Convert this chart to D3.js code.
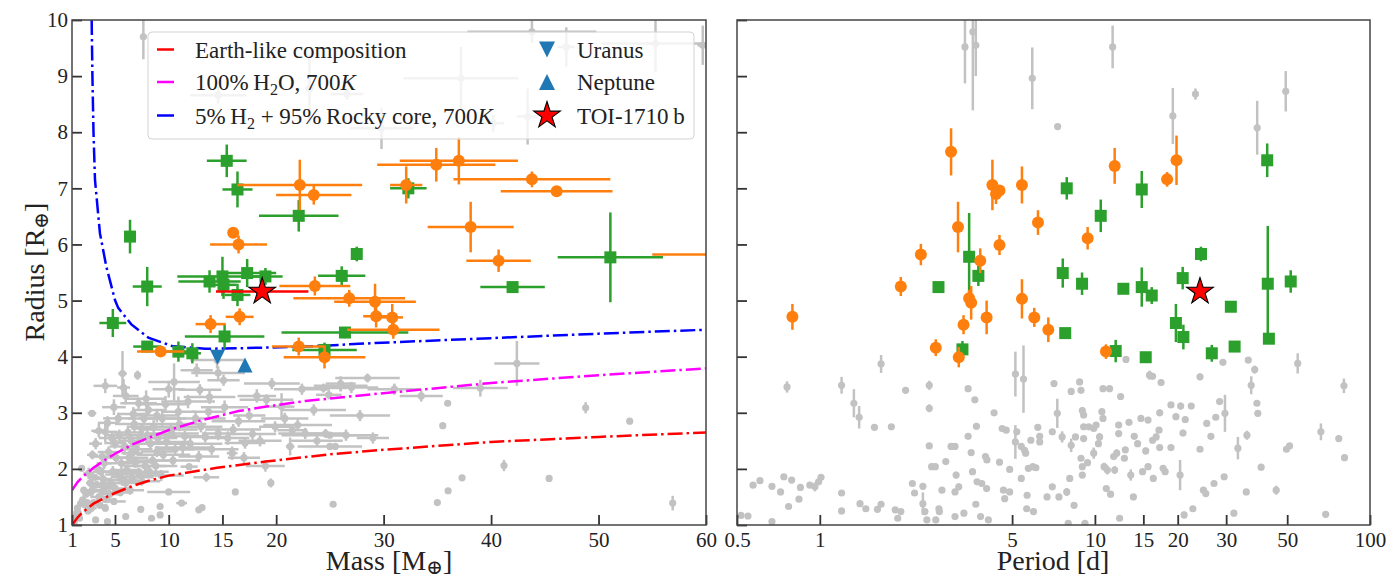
<!DOCTYPE html>
<html>
<head>
<meta charset="utf-8">
<script src="https://cdn.jsdelivr.net/npm/d3@7"></script>
<style>
  body { margin: 0; background: #fff; }
  svg, svg text { font-family: "Liberation Serif", "Times New Roman", "DejaVu Serif", serif; }
</style>
</head>
<body>
<svg id="chart" width="1397" height="580"></svg>
<script>
// ---------- data ----------
const massTicks = [1, 5, 10, 15, 20, 30, 40, 50, 60];
const periodTicks = [0.5, 1, 5, 10, 15, 20, 30, 50, 100];
const radiusTicks = [1, 2, 3, 4, 5, 6, 7, 8, 9, 10];

// model curves [mass, radius]
const earthLike = [[1,1.0],[1.5,1.13],[2,1.23],[3,1.38],[4,1.48],[5,1.57],[6.7,1.7],[8,1.78],[10,1.88],
  [14.5,2.02],[19,2.13],[25,2.26],[30,2.34],[40,2.48],[50,2.57],[60,2.65]];
const water700 = [[1,1.62],[1.5,1.76],[2,1.86],[3,2.02],[4,2.15],[5,2.27],[6.7,2.44],[8.75,2.6],[10,2.69],
  [12.9,2.86],[16.5,3.03],[19.1,3.11],[22.7,3.21],[28.9,3.33],[40,3.53],[50,3.67],[60,3.79]];
const h2Rocky = [[2.83,10.0],[2.9,9.0],[3.0,8.0],[3.14,7.15],[3.6,6.2],[4.2,5.6],[5.0,5.01],[5.3,4.87],
  [6.5,4.58],[8.1,4.34],[10.3,4.19],[13.4,4.14],[16.5,4.15],[22.7,4.18],[28.9,4.24],[40,4.33],[50,4.41],[60,4.48]];

// left panel points [mass, massErr, radius, radiusErr]
const grayMR = [
  [7.64,0.3,9.70,0.4],[14.6,2.6,8.66,0.15],[23.1,0.4,8.78,0.62],[26.6,1.5,8.68,0.1],[43.8,6.0,9.79,0.2],
  [47.0,0.8,9.52,0.35],[55.3,5.0,9.58,0.5],[59.7,0.5,9.55,0.35],[37.2,5.35,8.96,0.56],[29.8,3.0,8.07,0.37],
  [40.2,1.0,8.16,0.15],[43.4,1.0,8.28,0.5],
  [42.4,2.1,3.88,0.4],[39.0,2.55,3.44,0.15],[26,2.5,3.48,0.1],[25,4.5,2.6,0.05],[25,3,2.4,0.05],
  [35.96,0,3.17,0],[35.5,0,2.77,0],[48.8,0,3.09,0.1],[52.9,0,2.85,0],[45.4,0,1.83,0],[41.2,0,2.06,0.1],
  [37.3,0,1.84,0.05],[36.0,0,1.61,0],[35.0,0,1.40,0],[56.9,0,1.39,0.13],
  [2.86,0.4,2.99,0.05],[4.1,1.1,3.48,0.13],[5.7,0.4,3.70,0.4],[5.8,0.6,3.45,0.15],[7.1,0.3,3.67,0.08],
  [10.5,2.4,3.55,0.33],[10.0,1.5,3.42,0.15],[14.6,2.5,3.71,0.12],[12.9,2.0,3.41,0.1],[15.1,1.5,3.58,0.1],
  [19.6,2.6,3.52,0.1],[22.4,2.6,3.42,0.1],[24.4,2.2,3.44,0.08],[26.0,1.4,3.52,0.13],[19.1,2.5,3.23,0.1],
  [20.5,1.2,3.11,0.24],[24.9,1.2,3.32,0.08],[10.9,1.6,3.02,0.27],[13.7,1.5,3.02,0.1],[8.1,1.5,3.05,0.1],
  [7.2,1.7,3.17,0.1],[5.3,1.4,2.9,0.1],[4.1,1.1,2.66,0.18],[7.5,1.0,2.72,0.1],[10.3,2.5,2.63,0.1],
  [13.4,2.2,2.57,0.1],[14.6,1.5,2.63,0.12],[19.9,1.5,2.75,0.1],[21.5,1.4,2.69,0.1],[22.7,2.5,2.63,0.1],
  [24.6,1.9,2.63,0.08],[21.3,0.4,2.40,0.16],[17.1,1.9,2.46,0.1],[15.9,0.5,2.28,0.12],[12.8,1.9,2.22,0.1],
  [25.5,0,2.40,0],[11.9,0.8,2.04,0.05],[8.9,1.5,2.31,0.1],[6.6,1.0,2.28,0.1],[5.0,1.0,2.46,0.1],
  [3.8,1.0,2.22,0.1],[2.55,0.5,1.92,0.1],[1.9,0.3,2.01,0.05],[2.9,0.8,1.62,0.1],[4.1,1.2,1.68,0.1],
  [5.65,1.5,1.80,0.1],[7.2,1.8,1.92,0.1],[10.0,2.0,1.59,0],[16.2,0,1.59,0],[19.5,0,1.75,0.08],
  [25.3,0,1.37,0],[12.8,0,1.27,0],[13.1,0,1.31,0],[9.2,0,1.33,0.05],[9.2,0,1.18,0],[8.4,0,1.12,0],
  [7.4,0,1.28,0],[6.0,0,1.15,0],[4.3,0,1.06,0],[3.2,0,1.09,0],[1.6,0,1.21,0],[2.2,0,1.36,0],
  [4.1,0,1.30,0],[11.2,0.5,1.39,0],
  [2.3,0.3,1.55,0.05],[2.7,0.4,1.75,0.08],[3.1,0.5,1.85,0.06],[3.4,0.6,2.0,0.1],[3.7,0.8,1.95,0.08],
  [4.0,0.7,2.1,0.1],[4.4,1.0,2.3,0.1],[4.7,1.2,2.55,0.12],[5.1,1.0,2.2,0.1],[5.4,1.3,2.6,0.1],
  [5.9,1.4,2.4,0.15],[6.2,1.5,2.65,0.1],[6.5,1.2,2.5,0.1],[6.8,1.8,2.8,0.15],[7.0,1.5,2.35,0.1],
  [7.3,2.0,2.55,0.12],[7.7,1.5,2.9,0.1],[8.0,2.0,2.6,0.1],[8.3,1.6,2.45,0.1],[8.6,2.5,2.75,0.12],
  [9.0,1.8,2.55,0.1],[9.4,2.2,2.9,0.15],[9.8,2.0,2.48,0.1],[10.2,2.5,2.7,0.1],[10.6,1.8,2.35,0.1],
  [11.0,2.5,2.8,0.12],[11.5,2.0,2.58,0.1],[12.0,3.0,2.45,0.1],[3.0,0.5,1.4,0.05],[3.5,0.8,1.5,0.06],
  [4.5,1.0,1.55,0.08],[5.0,1.3,1.65,0.08],[6.0,1.5,1.75,0.1],[6.6,2.0,1.85,0.1],[7.8,2.0,2.05,0.1],
  [8.5,2.0,2.15,0.1],[9.5,2.5,2.25,0.12],[2.0,0.3,1.45,0.05],[1.5,0.2,1.3,0.05],[1.3,0.15,1.15,0.03],
  [2.5,0.4,1.25,0.05],[3.8,0.8,1.6,0.1],[4.8,1.2,1.95,0.1],[5.6,1.6,2.1,0.1],[6.3,1.8,2.2,0.12],
  [13.0,2.0,2.75,0.1],[14.0,2.5,2.35,0.1],[15.5,2.0,2.55,0.12],[16.5,2.5,2.85,0.1],[17.5,1.5,2.95,0.1],
  [18.5,2.0,2.5,0.1],[23.5,3.0,3.05,0.1],[26.5,2.0,2.6,0.1],[27.0,2.5,3.45,0.1],[29.0,1.5,2.55,0.1],
  [28.5,3.0,3.62,0.08],[14.5,2.5,3.94,0.15],[12.6,1.5,3.76,0.12],[1.44,0,1.21,0],
  // denser core of the small-planet cluster
  [1.2,0.1,1.05,0.03],[1.7,0.2,1.12,0.04],[1.8,0.3,1.38,0.05],[2.1,0.3,1.62,0.06],[2.4,0.4,1.4,0.05],
  [2.6,0.5,1.58,0.06],[2.8,0.5,1.3,0.05],[3.3,0.6,1.72,0.07],[3.6,0.7,1.35,0.05],[3.9,0.8,1.82,0.08],
  [4.2,0.9,1.45,0.06],[4.6,1.0,1.75,0.08],[4.9,1.1,1.42,0.06],[5.3,1.2,1.9,0.09],[5.5,1.2,1.58,0.07],
  [6.1,1.4,1.98,0.1],[6.4,1.3,1.62,0.08],[6.9,1.6,2.12,0.1],[7.5,1.7,1.78,0.08],[8.2,1.8,1.95,0.1],
  [8.8,2.0,2.05,0.1],[9.3,2.1,1.88,0.1],[10.4,2.4,2.15,0.1],[11.3,2.6,2.38,0.12],[2.9,0.5,2.25,0.08],
  [3.2,0.6,2.45,0.1],[3.5,0.7,2.68,0.12],[4.3,0.9,2.82,0.12],[4.9,1.1,3.1,0.14],[6.0,1.2,3.3,0.15],
  [6.7,1.5,2.98,0.12],[7.9,1.8,3.25,0.15],[8.9,2.1,2.95,0.12],[9.7,2.2,3.15,0.15],[11.8,2.5,3.2,0.12],
  [12.5,2.8,2.9,0.12],[13.8,2.4,3.28,0.12],[15.2,2.2,3.1,0.12],[16.0,2.6,2.7,0.1],[17.8,2.2,2.62,0.1],
  [18.2,1.8,3.3,0.12],[20.8,2.2,2.9,0.1],[22.0,3.2,2.78,0.1],[23.8,2.4,2.5,0.1],[27.8,2.8,2.95,0.1],
  [31.0,2.5,3.42,0.1],[33.5,2.0,3.3,0.1],[17.0,1.5,2.2,0.1],[19.0,1.8,2.05,0.1],[13.5,1.2,1.85,0.08]
];
const orangeMR = [
  [22.2,5.8,7.06,0.45],[23.5,3.5,6.88,0.17],[16.0,0,6.21,0],[16.5,2.65,6.0,0.16],[23.6,3.3,5.26,0.17],
  [26.8,5.2,5.04,0.15],[29.2,3.8,4.98,0.32],[29.3,1.2,4.72,0.2],[30.8,1.0,4.70,0.24],[30.9,4.3,4.48,0.16],
  [16.6,1.3,4.71,0.15],[13.9,1.4,4.58,0.16],[22.1,2.5,4.18,0.16],[24.5,3.8,3.99,0.2],[9.25,2.2,4.09,0.06],
  [34.9,5.5,7.42,0.3],[37.0,5.5,7.49,0.42],[32.1,1.5,7.06,0.33],[43.8,7.3,7.16,0.14],[46.1,5.2,6.95,0.05],
  [38.1,4.0,6.31,0.45],[40.7,3.0,5.71,0.2],[66,11,5.82,0.1]
];
const greenMR = [
  [15.4,1.85,7.49,0.29],[16.4,1.4,6.98,0.32],[22.1,3.7,6.51,0.28],[27.5,0.3,5.83,0.13],[8.0,1.35,5.25,0.35],
  [26.1,2.2,5.44,0.17],[13.8,2.9,5.34,0.2],[15.0,4.2,5.43,0.35],[17.3,2.7,5.49,0.25],[19.0,1.6,5.43,0.15],
  [15.1,1.2,5.28,0.25],[16.4,1.2,5.10,0.2],[8.0,1.3,4.18,0.1],[10.9,1.5,4.09,0.18],[12.2,0.8,4.06,0.18],
  [26.4,5.9,4.43,0.1],[24.5,3.0,4.12,0.13],[15.2,3.7,4.36,0.22],[4.8,1.25,4.60,0.25],[6.4,0.5,6.14,0.3],
  [51.1,4.9,5.77,0.8],[42.0,3.0,5.24,0.08],[32.3,1.7,7.0,0.18]
];
const toiMR = [[18.7,4.3,5.16,0.05]];
const uranus = [14.54, 3.99];
const neptune = [17.1, 3.85];

// right panel points [period, radius, radiusErr]
const grayPR = [
  [3.37,9.52,0.65],[3.6,9.79,1.4],[3.69,9.55,0.55],[5.92,8.96,0.55],[11.6,9.52,0.38],[7.32,8.1,0],
  [19.2,8.29,0.5],[23.2,8.68,0.1],[38.9,8.08,0.48],[49.4,8.73,0.36],
  [0.517,1.17,0],[0.548,1.16,0],[0.572,1.71,0],[0.606,1.79,0.05],[0.67,1.69,0],[0.67,1.06,0],[0.72,1.59,0],
  [0.74,1.86,0],[0.76,3.46,0.1],[0.77,1.33,0],[0.79,1.8,0],[0.84,1.46,0],[0.85,1.67,0.05],[0.92,1.71,0],
  [0.96,1.68,0.08],[0.99,1.77,0],[1.01,1.85,0.05],[1.20,3.49,0.15],[1.20,1.57,0],[1.20,1.25,0],
  [1.33,3.17,0.25],[1.39,2.92,0.2],[1.40,1.38,0.04],[1.47,1.29,0],[1.58,2.74,0],[1.62,1.28,0],
  [1.67,1.37,0],[1.67,3.87,0.16],[1.82,2.75,0.05],[1.88,1.27,0],[1.97,1.24,0],[1.92,1.12,0],
  [2.05,3.40,0.06],[2.17,1.74,0.05],[2.21,1.57,0.05],[2.37,1.69,0.06],[2.37,1.38,0.2],[2.41,1.24,0],
  [2.45,1.09,0],[2.5,3.49,0.08],[2.5,3.08,0.07],[2.5,2.41,0.05],[2.55,2.04,0.06],[2.63,2.04,0],
  [2.64,1.09,0],[2.71,1.29,0],[2.78,1.62,0],[2.72,1.24,0],[2.87,2.13,0.05],[3.0,2.4,0],[3.1,2.4,0],
  [3.13,1.89,0.06],[3.1,1.59,0],[3.2,1.68,0.06],[3.1,1.15,0],[3.34,1.21,0],[3.46,2.58,0],[3.46,3.43,0.05],
  [3.55,2.29,0.05],[3.59,1.95,0],[3.66,3.23,0],[3.69,1.37,0.04],[3.71,2.76,0.05],[3.73,1.77,0],
  [3.88,1.74,0],[3.84,1.15,0],[4.0,2.22,0.05],[4.05,2.16,0],[4.04,1.65,0.05],[4.1,1.09,0],[4.3,3.0,0],
  [4.5,2.12,0.05],[4.6,2.72,0],[4.65,1.62,0],[4.76,2.69,0],[4.7,1.47,0],[4.9,1.99,0],[4.9,1.59,0],
  [5.14,3.69,0.4],[5.14,2.48,0.3],[5.2,2.66,0],[5.4,1.83,0.05],[5.4,2.4,0.04],[5.5,3.6,0.6],
  [5.55,2.33,0.06],[5.6,2.28,0],[5.65,1.29,0],[5.67,1.53,0],[5.73,2.01,0],[5.85,2.51,0],[5.95,2.04,0],
  [5.98,1.24,0.06],[6.1,2.02,0],[6.2,2.74,0],[6.3,2.58,0],[6.3,2.48,0],[6.7,1.5,0],[7.0,2.66,0],
  [7.1,3.52,0.05],[7.0,1.68,0.05],[7.3,2.99,0.26],[7.4,1.5,0],[7.6,2.57,0.1],[7.9,1.59,0.07],[8.0,1.03,0],
  [8.1,1.83,0],[8.2,3.38,0.06],[8.2,2.42,0.12],[8.4,1.35,0],[8.5,2.57,0],[8.8,3.55,0],[8.9,3.40,0],
  [8.9,2.19,0],[9.0,2.04,0],[9.0,1.89,0],[9.0,3.04,0.06],[9.1,2.96,0],[9.1,2.75,0],[9.1,2.54,0],
  [9.2,1.03,0],[9.4,2.11,0],[9.5,2.75,0],[9.9,2.28,0.1],[9.9,2.72,0],[10.1,2.78,0],[10.3,2.45,0],
  [10.4,2.57,0.07],[10.6,3.02,0],[10.7,2.90,0],[10.7,3.43,0],[10.8,2.04,0.07],[11.0,1.65,0],
  [11.1,1.98,0.08],[11.3,3.43,0],[11.4,1.55,0],[11.7,2.22,0],[11.8,1.98,0.07],[12.0,2.28,0.07],
  [12.2,2.78,0.05],[12.3,1.12,0],[12.4,3.29,0],[12.2,2.63,0.05],[12.8,2.19,0],[12.9,2.34,0],
  [12.97,3.95,0.06],[13.3,2.83,0],[13.5,1.89,0.1],[13.8,1.50,0],[13.9,2.58,0.05],[14.3,2.45,0],
  [14.7,2.90,0],[14.9,1.95,0],[15.3,2.32,0.06],[15.6,2.87,0],[15.6,2.04,0],[15.8,3.67,0.08],
  [16.2,3.65,0.04],[16.2,2.51,0],[16.3,1.83,0],[16.7,2.57,0.06],[17.1,2.69,0],[17.2,2.38,0],
  [17.2,3.0,0.06],[17.4,3.54,0.06],[17.7,2.01,0],[18.0,1.95,0],[18.9,2.38,0],[18.9,3.14,0.05],
  [19.7,2.93,0],[20.4,1.89,0.27],[20.5,3.12,0.06],[20.9,2.64,0.06],[21.3,2.88,0.05],[21.1,1.18,0.06],
  [22.4,3.12,0],[22.7,1.29,0],[24.1,3.64,0.06],[24.1,2.35,0],[24.8,1.62,0],[25.3,1.56,0],[25.5,2.81,0],
  [26.4,2.58,0.06],[27.1,1.74,0.04],[27.5,2.92,0],[28.4,3.2,0],[29.2,3.90,0.05],[29.5,1.86,0.05],
  [29.7,2.99,0.33],[32.0,1.21,0.03],[33.1,2.37,0.2],[35.5,1.59,0],[35.7,2.6,0.08],[36.1,3.94,0.05],
  [37.0,3.49,0.16],[38.1,3.77,0.07],[38.8,3.17,0],[39.1,2.99,0],[40.2,2.03,0],[45.6,1.62,0.08],
  [49.7,2.35,0],[51.0,2.41,0],[54.6,3.88,0.18],[66.3,2.66,0.15],[69.0,1.19,0],[77.0,2.54,0.06],
  [80.4,3.48,0.13],[80.8,2.20,0]
];
const orangePR = [
  [3.0,7.65,0.42],[19.8,7.5,0.44],[11.8,7.4,0.32],[18.3,7.16,0.13],[4.24,7.06,0.45],[4.37,6.9,0.18],
  [4.5,6.96,0.1],[5.43,7.06,0.33],[6.21,6.39,0.22],[3.18,6.31,0.45],[4.5,5.99,0.18],[9.41,6.11,0.2],
  [2.33,5.82,0.19],[3.83,5.71,0.22],[1.97,5.25,0.17],[3.49,5.04,0.15],[3.55,4.96,0.3],[5.43,5.03,0.35],
  [4.04,4.7,0.3],[6.02,4.7,0.17],[6.77,4.48,0.22],[3.33,4.57,0.17],[2.64,4.16,0.15],[3.2,3.99,0.18],
  [10.97,4.09,0.13],[0.795,4.71,0.23]
];
const greenPR = [
  [42.3,7.5,0.3],[7.9,7.0,0.2],[14.8,6.98,0.33],[10.5,6.51,0.29],[3.49,5.78,0.78],[3.77,5.44,0.18],
  [7.64,5.49,0.26],[8.98,5.3,0.2],[2.70,5.24,0],[12.69,5.21,0],[14.8,5.24,0.35],[16.09,5.09,0.15],
  [20.85,5.4,0.2],[24.3,5.83,0.13],[31.2,4.89,0],[42.5,5.3,1.03],[42.9,4.32,0],[51.5,5.34,0.2],
  [19.7,4.6,0.34],[20.97,4.35,0.22],[32.2,4.18,0],[26.6,4.06,0.15],[15.3,3.99,0],[11.9,4.1,0.2],
  [7.8,4.42,0],[3.3,4.13,0.15]
];
const toiPR = [[24.1,5.16,0]];

// ---------- layout ----------
const FONT = '"Liberation Serif", "Times New Roman", "DejaVu Serif", serif';
const GRAY = '#c2c2c2', ORANGE = '#ff7f0e', GREEN = '#2ca02c', BLUE = '#1f77b4';
const plotTop = 20, plotBottom = 525;
const svg = d3.select('#chart');

const xMass = d3.scaleLinear().domain([1, 60]).range([72, 706]);
const xPer = d3.scaleLog().domain([0.5, 100]).range([737, 1370]);
const y = d3.scaleLinear().domain([1, 10]).range([plotBottom, plotTop]);

const defs = svg.append('defs');
function makePanel(id, xs) {
  const [x0, x1] = xs.range();
  defs.append('clipPath').attr('id', id).append('rect')
    .attr('x', x0).attr('y', plotTop).attr('width', x1 - x0).attr('height', plotBottom - plotTop);
  return svg.append('g').attr('clip-path', `url(#${id})`);
}
const leftG = makePanel('clipL', xMass);
const rightG = makePanel('clipR', xPer);

// error bars + markers
function errorbars(g, rows, xs, color, w) {
  rows.forEach(([x, xe, r, re]) => {
    if (xe) g.append('line').attr('x1', xs(x - xe)).attr('x2', xs(x + xe))
      .attr('y1', y(r)).attr('y2', y(r)).attr('stroke', color).attr('stroke-width', w);
    if (re) g.append('line').attr('x1', xs(x)).attr('x2', xs(x))
      .attr('y1', y(r - re)).attr('y2', y(r + re)).attr('stroke', color).attr('stroke-width', w);
  });
}
function circles(g, rows, xs, color, rad) {
  g.selectAll(null).data(rows).enter().append('circle')
    .attr('cx', d => xs(d[0])).attr('cy', d => y(d[2])).attr('r', rad).attr('fill', color);
}
function squares(g, rows, xs, color, s) {
  g.selectAll(null).data(rows).enter().append('rect')
    .attr('x', d => xs(d[0]) - s / 2).attr('y', d => y(d[2]) - s / 2)
    .attr('width', s).attr('height', s).attr('fill', color);
}
const star = d3.symbol(d3.symbolStar).size(220);
function stars(g, rows, xs) {
  g.selectAll(null).data(rows).enter().append('path')
    .attr('d', star).attr('transform', d => `translate(${xs(d[0])},${y(d[2])})`)
    .attr('fill', 'red').attr('stroke', '#000').attr('stroke-width', 1.1);
}
function tri(s, down) {
  const h = s / 2;
  return down ? `M0,${h}L${h},${-h}L${-h},${-h}Z` : `M0,${-h}L${h},${h}L${-h},${h}Z`;
}

// right-panel rows to [x, 0, r, re]
const pr = rows => rows.map(([p, r, re]) => [p, 0, r, re]);

// gray literature sample
errorbars(leftG, grayMR, xMass, GRAY, 2.5);
circles(leftG, grayMR, xMass, GRAY, 3.6);
errorbars(rightG, pr(grayPR), xPer, GRAY, 2.5);
circles(rightG, pr(grayPR), xPer, GRAY, 3.6);

// composition curves
const curve = d3.line().x(d => xMass(d[0])).y(d => y(d[1]));
[[earthLike, 'red'], [water700, 'magenta'], [h2Rocky, 'blue']].forEach(([pts, c]) => {
  leftG.append('path').attr('d', curve(pts)).attr('fill', 'none').attr('stroke', c)
    .attr('stroke-width', 2.5).attr('stroke-dasharray', '15,4,2.5,4');
});

// highlighted samples
errorbars(leftG, greenMR, xMass, GREEN, 2.5);
squares(leftG, greenMR, xMass, GREEN, 12);
errorbars(leftG, orangeMR, xMass, ORANGE, 2.5);
circles(leftG, orangeMR, xMass, ORANGE, 6);
errorbars(rightG, pr(greenPR), xPer, GREEN, 2.5);
squares(rightG, pr(greenPR), xPer, GREEN, 12);
errorbars(rightG, pr(orangePR), xPer, ORANGE, 2.5);
circles(rightG, pr(orangePR), xPer, ORANGE, 6);

leftG.append('path').attr('d', tri(15, true)).attr('fill', BLUE)
  .attr('transform', `translate(${xMass(uranus[0])},${y(uranus[1])})`);
leftG.append('path').attr('d', tri(15, false)).attr('fill', BLUE)
  .attr('transform', `translate(${xMass(neptune[0])},${y(neptune[1])})`);

errorbars(leftG, toiMR, xMass, 'red', 2.5);
stars(leftG, toiMR, xMass);
stars(rightG, pr(toiPR), xPer);

// ---------- axes ----------
function styleAxis(g, labels) {
  g.attr('font-family', FONT).attr('font-size', 21);
  g.select('.domain').remove();
  g.selectAll('.tick line').attr('stroke', '#333').attr('stroke-width', 1.8);
  g.selectAll('.tick text').attr('fill', '#222').attr('font-family', FONT);
  if (!labels) g.selectAll('.tick text').remove();
}
const fmtPer = d => (d < 1 ? d3.format('.1f')(d) : d3.format('d')(d));

svg.append('g').attr('transform', `translate(0,${plotBottom})`)
  .call(d3.axisBottom(xMass).tickValues(massTicks).tickSize(-10).tickPadding(7).tickFormat(d3.format('d')))
  .call(g => styleAxis(g, true));
svg.append('g').attr('transform', `translate(72,0)`)
  .call(d3.axisLeft(y).tickValues(radiusTicks).tickSize(-10).tickPadding(4).tickFormat(d3.format('d')))
  .call(g => styleAxis(g, true));
svg.append('g').attr('transform', `translate(0,${plotBottom})`)
  .call(d3.axisBottom(xPer).tickValues(periodTicks).tickSize(-10).tickPadding(7).tickFormat(fmtPer))
  .call(g => styleAxis(g, true));
svg.append('g').attr('transform', `translate(737,0)`)
  .call(d3.axisLeft(y).tickValues(radiusTicks).tickSize(-10))
  .call(g => styleAxis(g, false));

// spines
[xMass, xPer].forEach(xs => {
  const [x0, x1] = xs.range();
  svg.append('rect').attr('x', x0).attr('y', plotTop).attr('width', x1 - x0).attr('height', plotBottom - plotTop)
    .attr('fill', 'none').attr('stroke', '#444').attr('stroke-width', 1.5);
});

// axis labels with subscript circled plus
function label(x, yPos, main, rot) {
  const t = svg.append('text').attr('text-anchor', 'middle').attr('font-size', 28).attr('fill', '#222')
    .attr('font-family', FONT)
    .attr('transform', `translate(${x},${yPos})` + (rot ? ' rotate(-90)' : ''));
  t.append('tspan').text(main[0]);
  if (main.length > 1) {
    t.append('tspan').text('\u2295').attr('font-size', 20).attr('dy', 4);
    t.append('tspan').text(']').attr('dy', -4);
  }
}
label(44, 272, ['Radius [R', 1], true);
label(389, 570, ['Mass [M', 1], false);
label(1053, 570, ['Period [d]'], false);

// ---------- legend ----------
const leg = svg.append('g');
leg.append('rect').attr('x', 148).attr('y', 32).attr('width', 546).attr('height', 107)
  .attr('rx', 4).attr('fill', '#fff').attr('fill-opacity', 0.8).attr('stroke', '#d3d3d3');

function rich(x, yb, parts) {
  const t = leg.append('text').attr('x', x).attr('y', yb).attr('font-size', 23).attr('fill', '#222')
    .attr('font-family', FONT);
  let sub = false;
  parts.forEach(p => {
    const ts = t.append('tspan').text(p.t);
    if (p.sub) { ts.attr('font-size', 16).attr('dy', 5); sub = true; }
    else if (sub) { ts.attr('dy', -5); sub = false; }
    if (p.it) ts.attr('font-style', 'italic');
  });
}
const rowY = [49.5, 82, 115.5];
[['red', [{ t: 'Earth-like composition' }]],
 ['magenta', [{ t: '100%\u2009H' }, { t: '2', sub: true }, { t: 'O, 700' }, { t: 'K', it: true }]],
 ['blue', [{ t: '5%\u2009H' }, { t: '2', sub: true }, { t: ' + 95%\u2009Rocky core, 700' }, { t: 'K', it: true }]]
].forEach(([c, parts], i) => {
  leg.append('line').attr('x1', 157).attr('x2', 174).attr('y1', rowY[i]).attr('y2', rowY[i])
    .attr('stroke', c).attr('stroke-width', 2.5);
  rich(195, rowY[i] + 8, parts);
});
leg.append('path').attr('d', tri(16, true)).attr('fill', BLUE).attr('transform', `translate(547,${rowY[0]})`);
leg.append('path').attr('d', tri(16, false)).attr('fill', BLUE).attr('transform', `translate(547,${rowY[1]})`);
leg.append('path').attr('d', star).attr('transform', `translate(547,${rowY[2]})`)
  .attr('fill', 'red').attr('stroke', '#000').attr('stroke-width', 1.1);
rich(577, rowY[0] + 8, [{ t: 'Uranus' }]);
rich(577, rowY[1] + 8, [{ t: 'Neptune' }]);
rich(577, rowY[2] + 8, [{ t: 'TOI-1710\u2009b' }]);
</script>
</body>
</html>
